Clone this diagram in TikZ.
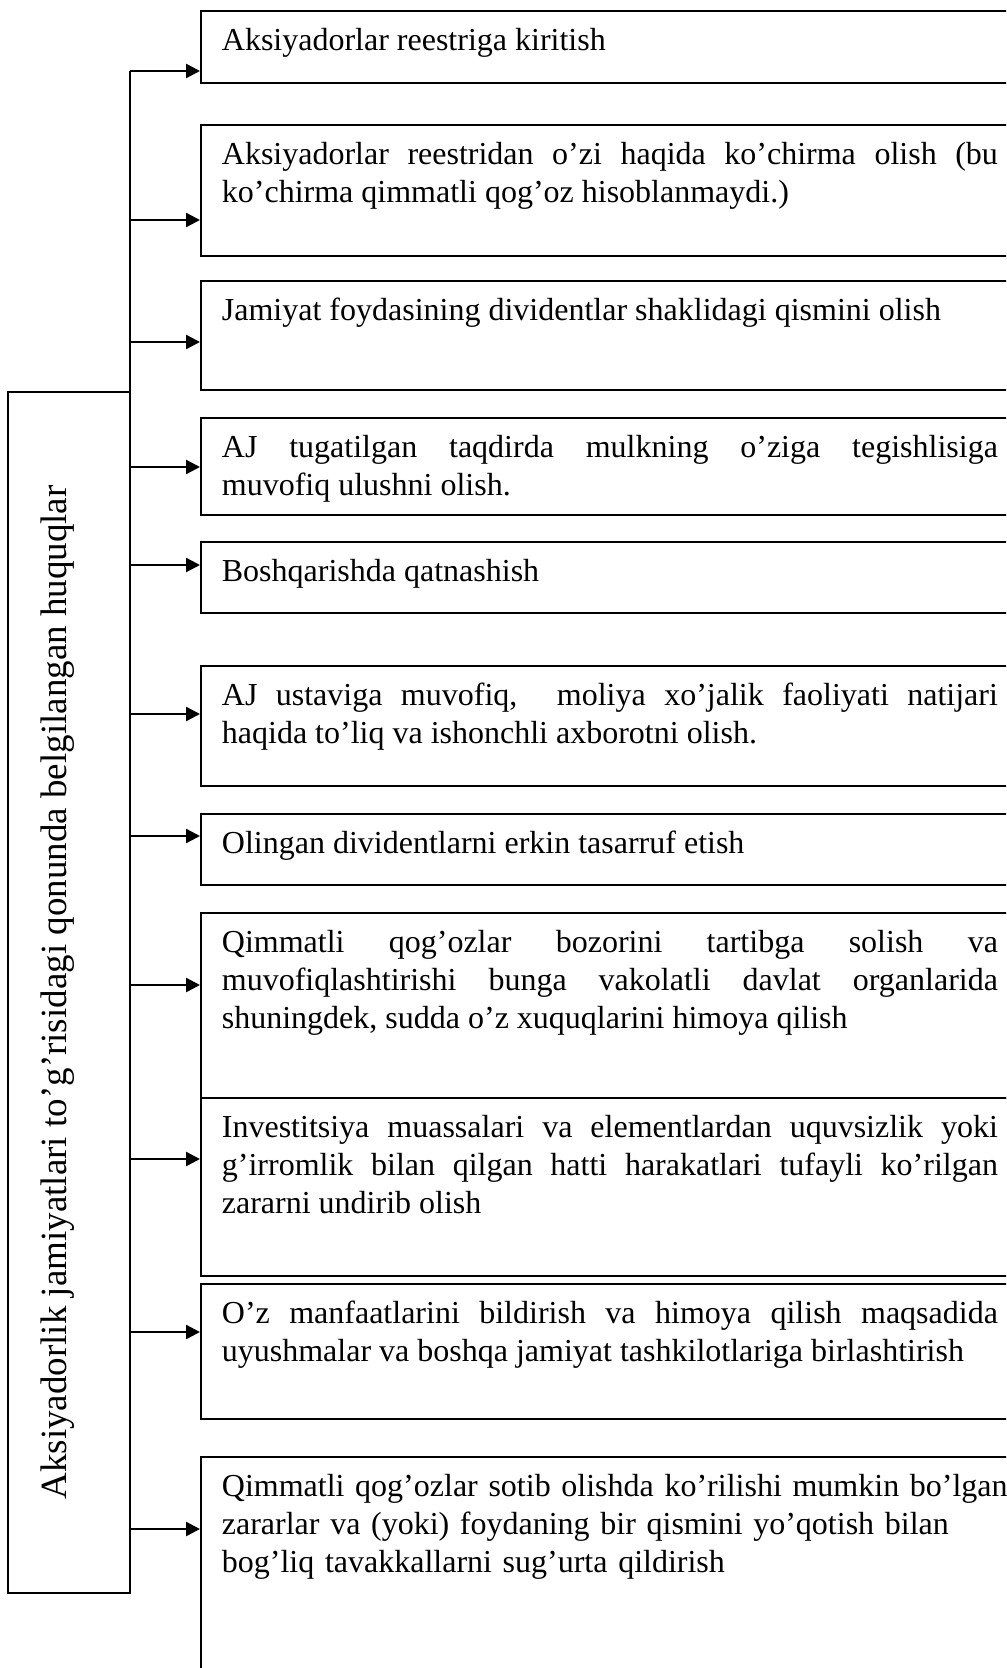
\documentclass[tikz,border=0pt]{standalone}
\usepackage{fontspec}
\setmainfont{Liberation Serif}
\usepackage{tikz}
\usetikzlibrary{arrows.meta}

\begin{document}
\begin{tikzpicture}[
        x=0.5pt, y=-0.5pt,
        leftbox/.style={draw, line width=0.8pt, rotate=90, minimum width=600.5pt, minimum height=61pt, inner sep=0pt, text height=10pt, text depth=13pt, font=\fontsize{18.5}{22}\selectfont},
        rightbox/.style={draw, line width=0.9pt, anchor=north west, text width=388pt, inner xsep=10.5pt, inner ysep=0pt, align=justify, text height=20pt, text depth=#1, font=\fontsize{16}{19}\selectfont},
        arrow/.style={-{Triangle[length=7pt, width=7pt]}, line width=1.2pt}
    ]
        \useasboundingbox (0,0) rectangle (1006,1668);
        \clip (0,0) rectangle (1006,1668);

        % Main box
        \node (rights) [leftbox] at (69,992.5) {Aksiyadorlik jamiyatlari to’g’risidagi qonunda belgilangan huquqlar};

        % Rights
        \node (r1) [rightbox=16pt] at (200,10) {Aksiyadorlar reestriga kiritish};
        \node (r2) [rightbox=45.5pt] at (200,124) {Aksiyadorlar reestridan o’zi haqida ko’chirma olish (bu\linebreak ko’chirma qimmatli qog’oz hisoblanmaydi.)};
        \node (r3) [rightbox=34.5pt] at (200,280) {Jamiyat foydasining dividentlar shaklidagi qismini olish};
        \node (r4) [rightbox=28.5pt] at (200,417) {AJ tugatilgan taqdirda mulkning o’ziga tegishlisiga\linebreak muvofiq ulushni olish.};
        \node (r5) [rightbox=15.5pt] at (200,541) {Boshqarishda qatnashish};
        \node (r6) [rightbox=40pt] at (200,665) {AJ ustaviga muvofiq,~ moliya xo’jalik faoliyati natijari\linebreak haqida to’liq va ishonchli axborotni olish.};
        \node (r7) [rightbox=15.5pt] at (200,813) {Olingan dividentlarni erkin tasarruf etish};
        \node (r8) [rightbox=72.5pt] at (200,912) {Qimmatli qog’ozlar bozorini tartibga solish va\linebreak muvofiqlashtirishi bunga vakolatli davlat organlarida\linebreak shuningdek, sudda o’z xuquqlarini himoya qilish};
        \node (r9) [rightbox=69pt] at (200,1097) {Investitsiya muassalari va elementlardan uquvsizlik yoki\linebreak g’irromlik bilan qilgan hatti harakatlari tufayli ko’rilgan\linebreak zararni undirib olish};
        \node (r10) [rightbox=47.5pt] at (200,1283) {O’z manfaatlarini bildirish va himoya qilish maqsadida\linebreak uyushmalar va boshqa jamiyat tashkilotlariga birlashtirish};
        \node (r11) [rightbox=92pt, text width=410pt, align=left] at (200,1456) {Qimmatli qog’ozlar sotib olishda ko’rilishi mumkin bo’lgan\\ zararlar va (yoki) foydaning bir qismini yo’qotish bilan\\ bog’liq tavakkallarni sug’urta qildirish};

        % Branch points
        \coordinate (c1) at (130,71);
        \coordinate (c2) at (130,220);
        \coordinate (c3) at (130,342);
        \coordinate (c4) at (130,467);
        \coordinate (c5) at (130,565);
        \coordinate (c6) at (130,714);
        \coordinate (c7) at (130,836);
        \coordinate (c8) at (130,985);
        \coordinate (c9) at (130,1159);
        \coordinate (c10) at (130,1332);
        \coordinate (c11) at (130,1529);

        % Trunk
        \draw [line width=0.8pt] (c1) -- (c11);

        % Connections
        \draw [arrow] (c1) -- (c1 -| r1.west);
        \draw [arrow] (c2) -- (c2 -| r2.west);
        \draw [arrow] (c3) -- (c3 -| r3.west);
        \draw [arrow] (c4) -- (c4 -| r4.west);
        \draw [arrow] (c5) -- (c5 -| r5.west);
        \draw [arrow] (c6) -- (c6 -| r6.west);
        \draw [arrow] (c7) -- (c7 -| r7.west);
        \draw [arrow] (c8) -- (c8 -| r8.west);
        \draw [arrow] (c9) -- (c9 -| r9.west);
        \draw [arrow] (c10) -- (c10 -| r10.west);
        \draw [arrow] (c11) -- (c11 -| r11.west);
    \end{tikzpicture}
\end{document}
